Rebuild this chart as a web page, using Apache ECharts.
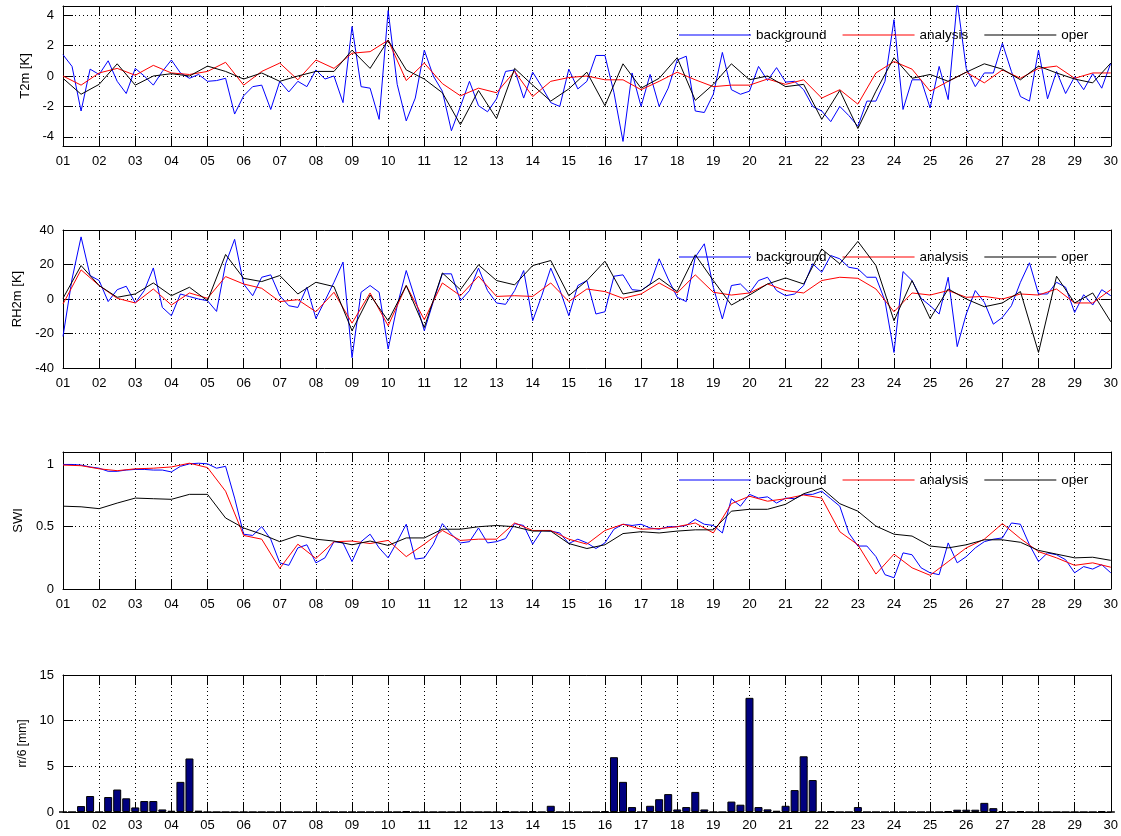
<!DOCTYPE html>
<html><head><meta charset="utf-8">
<script src="https://cdn.jsdelivr.net/npm/echarts@6.0.0/dist/echarts.min.js"></script>
<style>html,body{margin:0;padding:0;background:#fff}#c{width:1121px;height:836px}</style>
</head><body><div id="c"></div>
<script>
// ---------- data ----------
const dayLabels = ['01','02','03','04','05','06','07','08','09','10','11','12','13','14','15','16','17','18','19','20','21','22','23','24','25','26','27','28','29','30'];
const seriesNames = ['background','analysis','oper'];

// T2m (6-hourly background, 12-hourly analysis/oper)
const t2mBackground = [
 1.4,0.63,-2.3,0.45, 0.1,1.0,-0.35,-1.15, 0.5,0,-0.6,0.3, 1.05,0.2,-0.15,0.1,
 -0.35,-0.3,-0.15,-2.5, -1.3,-0.7,-0.6,-2.2, -0.35,-1.05,-0.35,-0.7, 0.4,-0.2,0,-1.75,
 3.25,-0.7,-0.8,-2.85, 4.3,-0.55,-2.95,-1.45, 1.7,0,-1.0,-3.6, -2.0,-0.35,-1.95,-2.35,
 -1.5,0.3,0.4,-1.45, 0.25,-0.7,-1.75,-2.0, 0.45,-0.85,-0.35,1.35, 1.35,-1.1,-4.3,0.2,
 -2.0,0.1,-2.0,-0.8, 1.05,1.3,-2.3,-2.4, -1.2,1.55,-0.9,-1.2, -1.0,0.63,-0.3,0.55,
 -0.4,-0.35,-0.9,-2.0, -2.3,-3.0,-2.0,-2.6, -3.3,-1.65,-1.65,-0.35, 3.7,-2.2,-0.25,-0.25,
 -2.1,0.63,-1.55,4.9, 0.5,-0.7,0.2,0.2, 2.15,0.3,-1.35,-1.65, 1.7,-1.5,0.3,-1.15,
 -0.05,-0.9,0.15,-0.8, 0.85];
const t2mAnalysis = [
 0,-0.6,0.2,0.5,0.05,0.7,0.2,0.1,0.3,0.9,-0.6,0.3,0.85,-0.25,1.05,0.5,1.5,1.6,
 2.35,-0.3,0.85,-0.5,-1.3,-0.8,-1.1,0.3,-1.35,-0.35,-0.1,0,-0.25,-0.25,-0.9,-0.35,0.25,-0.25,-0.7,-0.6,
 -0.6,-0.2,-0.55,-0.25,-1.45,-0.9,-1.85,0.2,0.95,0.45,-1.0,-0.35,0.25,-0.45,0.4,-0.15,0.5,0.65,-0.15,0.2,0.2];
const t2mOper = [
 -0.15,-1.2,-0.55,0.8,-0.6,0,0.15,0,0.65,0.3,-0.2,0.2,-0.35,0,0.3,0.3,1.7,0.5,
 2.35,0.4,-0.2,-1.1,-3.2,-0.95,-2.8,0.5,-0.6,-1.65,-0.85,0.25,-1.95,0.8,-0.8,-0.15,1.2,-1.6,-0.55,0.8,
 -0.25,0,-0.7,-0.55,-2.85,-0.95,-3.45,-1.0,1.2,-0.15,0.1,-0.35,0.25,0.8,0.45,-0.25,0.65,0.2,-0.2,-0.45,0.85];

// RH2m
const rhBackground = [
 -21.7,11.6,36,13.6, 10.7,-1.5,5.4,7.4, -2.3,4.9,18,-4.9, -9.7,2.9,1.4,0,
 -1,-7.2,20.4,34.6, 8.7,1.9,12.6,14, 1.9,-3.9,-4.9,6.8, -11.3,-1,9.7,21.4,
 -34,3.9,7.8,3.9, -29,-3.9,16.5,0, -18.4,-1.5,14.6,14.6, -1,4.9,17.9,4.9,
 -2.3,-3.1,4.9,16.5, -12.6,1.9,17.9,5.4, -9.7,7.8,10.7,-8.7, -7.4,13.2,14,5.4,
 4.9,8.7,23.3,11.6, 1,-1.5,24.3,32, 6.8,-11.6,7.8,8.7, 3.5,10.7,12.6,4.9,
 1.9,2.9,7.8,20.4, 15.5,25.2,23.3,18.4, 17.5,12.6,12.6,-1, -31,15.9,10.7,0.4,
 -3.9,-8.7,12.6,-27.6, -8.7,4.9,-1.9,-14.6, -10.7,-3.9,9.7,21, 2.9,2.9,9.7,6.8,
 -7.8,2.5,-3.5,5.4, 1.9];
const rhAnalysis = [
 -2.9,16.9,7.8,0.4,-2.3,5.8,-3.5,3.5,0.4,13,8.7,6.2,-1.5,-0.4,-7.4,3.9,-14,3.5,
 -15.5,7.8,-12,9.3,1.9,13.2,1.5,1.9,1.5,9.3,-1.5,5.8,4.3,0.4,2.9,9.3,3.5,14,3.9,2.3,
 3.5,8.7,4.9,3.5,10.7,12.6,12,5.8,-7.4,3.5,2.3,4.9,1,1.5,0,2.9,2.3,5.8,-2.3,-2.3,5.4];
const rhOper = [
 0.4,19.4,7.8,1,2.9,9.3,1.9,6.8,-1,25.8,12,10.1,13.6,2.9,9.7,7.2,-18.4,2.3,
 -12.6,7.8,-16.5,15.1,5.4,19.8,10.7,8.2,19.4,22.3,1.9,10.7,21.9,2.9,4.9,12,4.3,25.6,10.7,-3.5,
 2.3,8.7,12.2,8.7,29,20.4,33.4,19.4,-12.6,10.7,-11.3,5.8,0,-4.5,-2.3,4.3,-31,13.2,-2.3,3.5,-13.2];

// SWI
const swiBackground = [
 1.0,1.0,0.995,0.98, 0.97,0.945,0.945,0.955, 0.96,0.96,0.955,0.955, 0.94,0.985,1.005,1.01,
 1.005,0.97,0.985,0.73, 0.44,0.43,0.5,0.4, 0.21,0.19,0.33,0.355, 0.21,0.25,0.38,0.37,
 0.22,0.38,0.44,0.33, 0.25,0.38,0.52,0.24, 0.25,0.36,0.525,0.44, 0.37,0.38,0.49,0.37,
 0.38,0.405,0.525,0.51, 0.36,0.47,0.465,0.45, 0.365,0.4,0.37,0.325, 0.37,0.48,0.52,0.51,
 0.52,0.49,0.48,0.5, 0.5,0.51,0.56,0.52, 0.51,0.45,0.725,0.665, 0.76,0.73,0.74,0.69,
 0.73,0.725,0.76,0.76, 0.785,0.725,0.665,0.45, 0.345,0.345,0.26,0.115, 0.09,0.29,0.275,0.17,
 0.13,0.115,0.37,0.21, 0.26,0.33,0.38,0.4, 0.41,0.53,0.52,0.355, 0.22,0.29,0.275,0.235,
 0.13,0.18,0.16,0.195, 0.13];
const swiAnalysis = [
 0.995,0.99,0.965,0.95,0.965,0.97,0.98,1.01,0.975,0.785,0.43,0.4,0.165,0.36,0.245,0.38,0.385,0.365,
 0.39,0.26,0.36,0.47,0.39,0.4,0.4,0.53,0.47,0.47,0.4,0.36,0.47,0.52,0.48,0.485,0.5,0.53,0.45,0.685,
 0.745,0.705,0.725,0.755,0.73,0.46,0.355,0.12,0.28,0.17,0.11,0.22,0.33,0.4,0.525,0.405,0.3,0.25,0.19,0.21,0.175];
const swiOper = [
 0.665,0.66,0.645,0.69,0.73,0.725,0.72,0.76,0.76,0.57,0.49,0.44,0.38,0.43,0.4,0.385,0.355,0.385,
 0.35,0.41,0.41,0.48,0.48,0.5,0.51,0.5,0.465,0.465,0.365,0.325,0.355,0.445,0.46,0.45,0.465,0.475,0.475,0.625,
 0.64,0.64,0.68,0.765,0.81,0.685,0.625,0.505,0.44,0.425,0.345,0.33,0.355,0.395,0.395,0.375,0.31,0.28,0.25,0.255,0.23];

// 6-hourly precipitation rr/6 [mm]
const rain6h = [
 0,0,0.65,1.75, 0,1.64,2.46,1.5, 0.5,1.2,1.2,0.28, 0.14,3.3,5.86,0.15,
 0,0,0,0, 0,0,0,0, 0,0,0,0, 0,0,0,0,
 0,0,0,0, 0,0,0.1,0, 0,0,0,0, 0,0,0,0,
 0,0.1,0,0, 0.1,0,0.68,0, 0,0,0,0, 0.1,6.0,3.3,0.54,
 0,0.68,1.4,1.96, 0.28,0.54,2.2,0.28, 0,0,1.14,0.8, 12.5,0.54,0.29,0.14,
 0.68,2.4,6.1,3.5, 0,0.1,0,0, 0.54,0,0,0, 0,0,0,0,
 0,0,0.1,0.25, 0.25,0.25,1.0,0.42, 0.1,0,0.1,0, 0,0,0,0,
 0,0,0,0.1, 0];

// tick labels / values
const t2mTicks = [-4,-2,0,2,4];
const rhTicks = [-40,-20,0,20,40];
const swiTicks = [0,0.5,1];
const rainTicks = [0,5,10,15];

// ---------- chart ----------
const FONT = 'Liberation Sans, Arial, sans-serif';
const sixHourly = arr => arr.map((v, i) => [1 + i / 4, v]);
const twelveHourly = arr => arr.map((v, i) => [1 + i / 2, v]);

const panels = [
  {top: 6,   height: 140, name: 'T2m [K]',   min: -4.6, max: 4.6, ticks: t2mTicks, lines: [t2mBackground, t2mAnalysis, t2mOper], legendTop: 28, nameSize: 13, nameGap: 31, xMargin: 9},
  {top: 230, height: 138, name: 'RH2m [K]',  min: -40,  max: 40,  ticks: rhTicks,  lines: [rhBackground, rhAnalysis, rhOper], legendTop: 250, nameSize: 13, nameGap: 31, xMargin: 9},
  {top: 452, height: 137, name: 'SWI',       min: 0,    max: 1.1, ticks: swiTicks, lines: [swiBackground, swiAnalysis, swiOper], legendTop: 473, nameSize: 13, nameGap: 31, xMargin: 9},
  {top: 675, height: 137, name: 'rr/6 [mm]', min: 0,    max: 15,  ticks: rainTicks, bars: rain6h, nameSize: 12, nameGap: 32, xMargin: 7}
];
const colors = ['#0000ff', '#ff0000', '#000000'];
const dotted = {color: '#000', width: 1, type: [1, 3]};
const frame = {show: true, onZero: false, lineStyle: {color: '#000', width: 1}};
const tick = {show: true, inside: true, length: 10, lineStyle: {color: '#000', width: 1}};

const grid = [], xAxis = [], yAxis = [], series = [], legend = [];
panels.forEach((p, i) => {
  grid.push({left: 63, right: 10, top: p.top, height: p.height});
  xAxis.push({
    gridIndex: i, type: 'value', min: 1, max: 30, interval: 1, position: 'bottom',
    axisLine: frame, axisTick: tick,
    axisLabel: {margin: p.xMargin, color: '#000', fontSize: 13, fontFamily: FONT,
      formatter: v => dayLabels[Math.round(v) - 1] || ''},
    splitLine: {show: true, lineStyle: dotted}
  });
  xAxis.push({
    gridIndex: i, type: 'value', min: 1, max: 30, interval: 1, position: 'top',
    axisLine: frame, axisTick: tick, axisLabel: {show: false}, splitLine: {show: false}
  });
  yAxis.push({
    gridIndex: i, type: 'value', min: p.min, max: p.max, position: 'left',
    name: p.name, nameLocation: 'middle', nameGap: p.nameGap,
    nameTextStyle: {color: '#000', fontSize: p.nameSize, fontFamily: FONT},
    axisLine: frame,
    axisTick: Object.assign({}, tick, {customValues: p.ticks}),
    axisLabel: {customValues: p.ticks, margin: 9, color: '#000', fontSize: 13, fontFamily: FONT},
    splitLine: {show: true, lineStyle: dotted}
  });
  yAxis.push({
    gridIndex: i, type: 'value', min: p.min, max: p.max, position: 'right',
    axisLine: frame,
    axisTick: Object.assign({}, tick, {customValues: p.ticks}),
    axisLabel: {show: false}, splitLine: {show: false}
  });
  if (p.lines) {
    p.lines.forEach((arr, k) => {
      series.push({
        name: seriesNames[k], type: 'line', xAxisIndex: 2 * i, yAxisIndex: 2 * i,
        data: k === 0 ? sixHourly(arr) : twelveHourly(arr),
        symbol: 'none', showSymbol: false, clip: true,
        lineStyle: {color: colors[k], width: 1}, itemStyle: {color: colors[k]},
        z: 3 + k
      });
    });
    legend.push({
      data: seriesNames.map(n => ({name: n, icon: 'rect'})),
      left: 679, top: p.legendTop, itemWidth: 72, itemHeight: 1, itemGap: 16,
      selectedMode: false, padding: 0,
      textStyle: {color: '#000', fontSize: 13.5, fontFamily: FONT, lineHeight: 14}
    });
  }
  if (p.bars) {
    series.push({
      name: 'rr/6', type: 'bar', xAxisIndex: 2 * i, yAxisIndex: 2 * i,
      data: sixHourly(p.bars), barWidth: 8,
      itemStyle: {color: '#00007f', borderColor: '#000', borderWidth: 1}
    });
  }
});

const chart = echarts.init(document.getElementById('c'), null, {renderer: 'canvas'});
chart.setOption({
  animation: false,
  backgroundColor: '#fff',
  textStyle: {fontFamily: FONT},
  grid, xAxis, yAxis, series, legend
});
</script>
</body></html>
